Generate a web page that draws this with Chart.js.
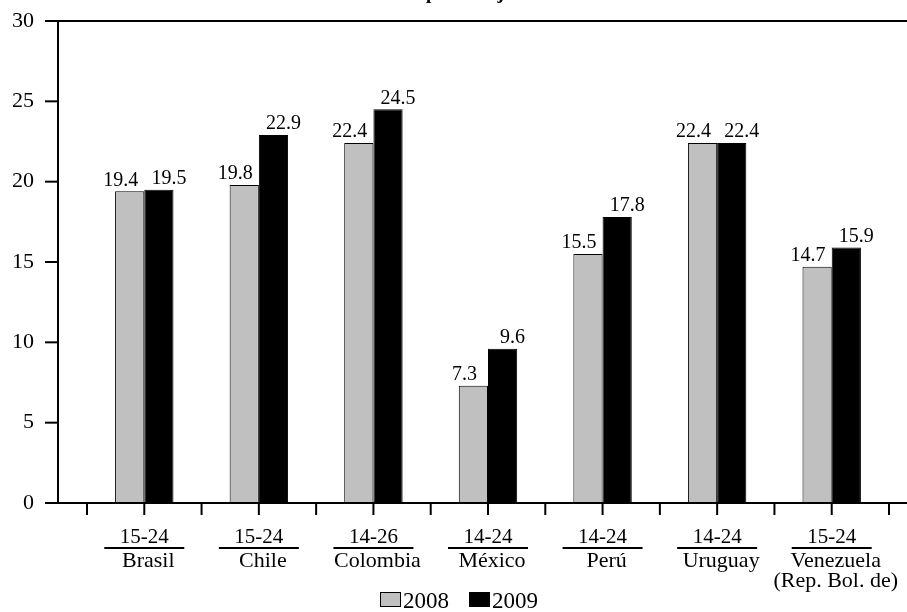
<!DOCTYPE html>
<html>
<head>
<meta charset="utf-8">
<script src="https://cdn.jsdelivr.net/npm/chart.js@4"></script>
<style>
  body { margin: 0; background: #fff; }
  canvas { display: block; }
</style>
</head>
<body>
<canvas id="grafico" width="907" height="612"></canvas>
<script>
// datos
const paises = ['Brasil', 'Chile', 'Colombia', 'México', 'Perú', 'Uruguay', ['Venezuela', '(Rep. Bol. de)']];
const edades = ['15-24', '15-24', '14-26', '14-24', '14-24', '14-24', '15-24'];
const valores2008 = [19.4, 19.8, 22.4, 7.3, 15.5, 22.4, 14.7];
const valores2009 = [19.5, 22.9, 24.5, 9.6, 17.8, 22.4, 15.9];
const ticksY = [0, 5, 10, 15, 20, 25, 30];
const series = ['2008', '2009'];

const FUENTE = "'Liberation Serif', 'Times New Roman', serif";

// ejes, etiquetas y leyenda dibujados a mano
const ejesPlugin = {
  id: 'ejes',
  afterDatasetsDraw(chart) {
    const ctx = chart.ctx;
    const area = chart.chartArea;
    const x = chart.scales.x;
    const y = chart.scales.y;
    const ejeY = 58;
    ctx.save();
    ctx.strokeStyle = '#000';
    ctx.fillStyle = '#000';
    ctx.lineWidth = 2;

    // lineas superior, inferior y eje y
    ctx.beginPath();
    ctx.moveTo(45, area.top); ctx.lineTo(907, area.top);
    ctx.moveTo(45, area.bottom); ctx.lineTo(907, area.bottom);
    ctx.moveTo(ejeY, area.top); ctx.lineTo(ejeY, area.bottom);
    ctx.stroke();

    // ticks y
    ctx.font = '22px ' + FUENTE;
    ctx.textAlign = 'right';
    ctx.textBaseline = 'middle';
    ticksY.forEach(v => {
      const py = y.getPixelForValue(v);
      ctx.beginPath();
      ctx.moveTo(45, py); ctx.lineTo(ejeY, py);
      ctx.stroke();
      ctx.fillText(String(v), 34, py);
    });

    // ticks x (centros y limites de categoria)
    const c0 = x.getPixelForTick(0);
    const mitad = (x.getPixelForTick(1) - c0) / 2;
    for (let k = 0; k <= paises.length * 2; k++) {
      const px = c0 - mitad + k * mitad;
      ctx.beginPath();
      ctx.moveTo(px, area.bottom); ctx.lineTo(px, area.bottom + 12);
      ctx.stroke();
    }

    // etiquetas de categoria
    ctx.textAlign = 'center';
    ctx.textBaseline = 'alphabetic';
    paises.forEach((p, i) => {
      const px = x.getPixelForTick(i);
      ctx.font = '21px ' + FUENTE;
      ctx.fillText(edades[i], px, 543);
      ctx.beginPath();
      ctx.moveTo(px - 40, 548); ctx.lineTo(px + 40, 548);
      ctx.stroke();
      ctx.font = '22px ' + FUENTE;
      const lineas = Array.isArray(p) ? p : [p];
      lineas.forEach((t, j) => ctx.fillText(t, px + 4, 567 + j * 20));
    });

    // valores sobre las barras
    ctx.font = '20px ' + FUENTE;
    ctx.textBaseline = 'bottom';
    chart.data.datasets.forEach((ds, d) => {
      const meta = chart.getDatasetMeta(d);
      meta.data.forEach((bar, i) => {
        const off = d === 0 ? -9 : 10;
        ctx.fillText(ds.data[i].toFixed(1), bar.x + off, bar.y - 1);
      });
    });

    // leyenda
    ctx.font = '23px ' + FUENTE;
    ctx.textAlign = 'left';
    ctx.textBaseline = 'alphabetic';
    ctx.lineWidth = 1;
    const colores = ['#c0c0c0', '#000'];
    const posX = [380, 469];
    series.forEach((s, d) => {
      ctx.fillStyle = colores[d];
      ctx.fillRect(posX[d], 592, 21, 15);
      ctx.strokeStyle = '#000';
      ctx.strokeRect(posX[d] + 0.5, 592.5, 20, 14);
      ctx.fillStyle = '#000';
      ctx.fillText(s, posX[d] + 23, 608);
    });

    // titulo (cortado en el borde superior)
    ctx.font = 'bold 19px ' + FUENTE;
    ctx.fillText('En porcentajes', 398, -1);

    ctx.restore();
  }
};

new Chart(document.getElementById('grafico'), {
  type: 'bar',
  data: {
    labels: paises,
    datasets: [{
      label: series[0],
      data: valores2008,
      backgroundColor: '#c0c0c0',
      borderColor: '#000',
      borderWidth: 1
    }, {
      label: series[1],
      data: valores2009,
      backgroundColor: '#000',
      borderColor: '#000',
      borderWidth: 1
    }]
  },
  options: {
    responsive: false,
    animation: false,
    devicePixelRatio: 1,
    layout: { padding: { left: 87, right: 18, top: 21, bottom: 109 } },
    datasets: { bar: { categoryPercentage: 0.51, barPercentage: 1 } },
    plugins: { legend: { display: false }, tooltip: { enabled: false } },
    scales: {
      x: { display: false },
      y: { display: false, min: 0, max: 30 }
    }
  },
  plugins: [ejesPlugin]
});
</script>
</body>
</html>
